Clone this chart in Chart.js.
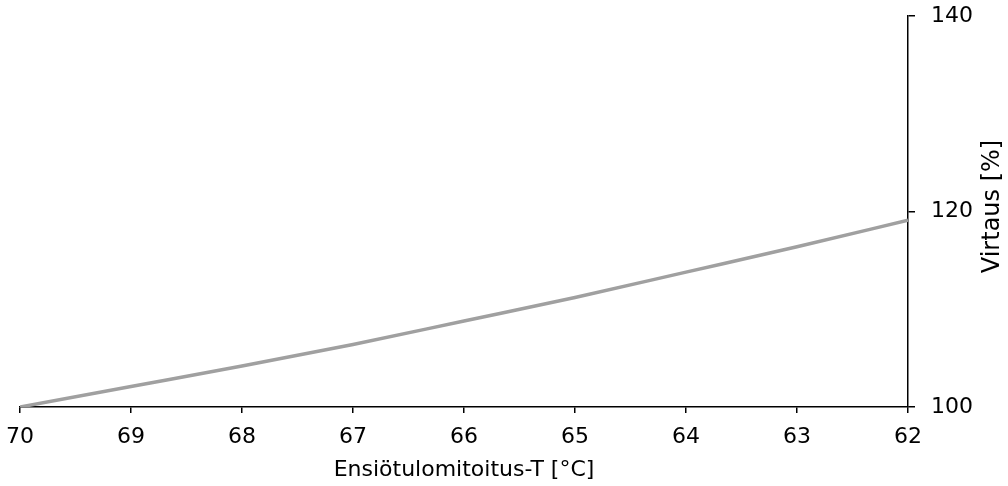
<!DOCTYPE html>
<html>
<head>
<meta charset="utf-8">
<script src="https://cdn.jsdelivr.net/npm/chart.js@4/dist/chart.umd.min.js"></script>
<style>
  body { margin: 0; background: #fff; }
  #wrap { width: 1008px; height: 486px; }
</style>
</head>
<body>
<div id="wrap"><canvas id="flow-chart"></canvas></div>
<script>
var temps  = [70, 69, 68, 67, 66, 65, 64, 63, 62];
var flows  = [100, 102.1, 104.2, 106.4, 108.8, 111.2, 113.8, 116.4, 119.1];
var xTicks = [70, 69, 68, 67, 66, 65, 64, 63, 62];
var yTicks = [100, 120, 140];

var xTitle = 'Ensiötulomitoitus-T [°C]';
var yTitle = 'Virtaus [%]';

var FONT = 'Verdana, "DejaVu Sans", sans-serif';
var FSIZE = 22;

// right axis title reads bottom-to-top, Chart.js would rotate it the other way
var yTitlePlugin = {
    id: 'yTitle',
    afterDraw: function(chart) {
        var ctx = chart.ctx, area = chart.chartArea;
        ctx.save();
        ctx.translate(993, (area.top + area.bottom) / 2 - 5);
        ctx.rotate(-Math.PI / 2);
        ctx.font = '24px ' + FONT;
        ctx.fillStyle = '#000';
        ctx.textAlign = 'center';
        ctx.textBaseline = 'middle';
        ctx.fillText(yTitle, 0, 0);
        ctx.restore();
    }
};

new Chart(document.getElementById('flow-chart'), {
    type: 'line',
    data: {
        datasets: [{
            data: temps.map(function(t, i) { return { x: t, y: flows[i] }; }),
            borderColor: '#a0a0a0',
            borderWidth: 3.5,
            pointRadius: 0,
            cubicInterpolationMode: 'monotone',
            fill: false
        }]
    },
    options: {
        responsive: true,
        maintainAspectRatio: false,
        animation: false,
        layout: { padding: { left: 20, right: 0, top: 16, bottom: 0 } },
        plugins: {
            legend: { display: false },
            tooltip: { enabled: false }
        },
        scales: {
            x: {
                type: 'linear',
                reverse: true,
                min: 62,
                max: 70,
                afterBuildTicks: function(s) { s.ticks = xTicks.map(function(v) { return { value: v }; }); },
                afterFit: function(s) { s.height = 79; s.paddingLeft = 0; s.paddingRight = 0; },
                grid: { drawOnChartArea: false, color: '#000', tickLength: 6, lineWidth: 1.5 },
                border: { color: '#000', width: 1.5 },
                ticks: { color: '#000', font: { family: FONT, size: FSIZE }, padding: 11, maxRotation: 0 },
                title: { display: true, text: xTitle, color: '#000', font: { family: FONT, size: FSIZE }, padding: { top: 0, bottom: 3 } }
            },
            y: {
                position: 'right',
                min: 100,
                max: 140,
                afterBuildTicks: function(s) { s.ticks = yTicks.map(function(v) { return { value: v }; }); },
                afterFit: function(s) { s.width = 100; s.paddingTop = 0; s.paddingBottom = 0; },
                grid: { drawOnChartArea: false, color: '#000', tickLength: 7, lineWidth: 1.5 },
                border: { color: '#000', width: 1.5 },
                ticks: { color: '#000', font: { family: FONT, size: FSIZE }, padding: 16 }
            }
        }
    },
    plugins: [yTitlePlugin]
});
</script>
</body>
</html>
